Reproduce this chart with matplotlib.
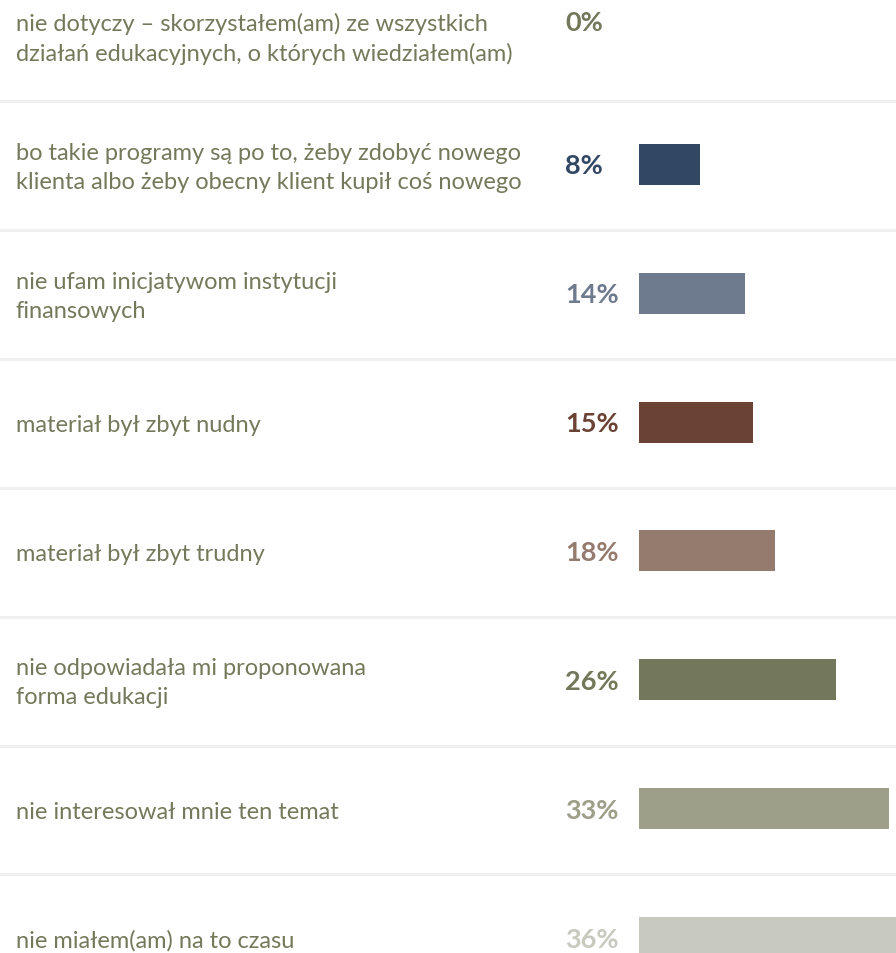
import matplotlib
matplotlib.use("Agg")
import matplotlib.pyplot as plt
import matplotlib.transforms as mtransforms

categories = [
    "nie dotyczy – skorzystałem(am) ze wszystkich\ndziałań edukacyjnych, o których wiedziałem(am)",
    "bo takie programy są po to, żeby zdobyć nowego\nklienta albo żeby obecny klient kupił coś nowego",
    "nie ufam inicjatywom instytucji\nfinansowych",
    "materiał był zbyt nudny",
    "materiał był zbyt trudny",
    "nie odpowiadała mi proponowana\nforma edukacji",
    "nie interesował mnie ten temat",
    "nie miałem(am) na to czasu",
]
values = [0, 8, 14, 15, 18, 26, 33, 36]
pct_labels = ["0%", "8%", "14%", "15%", "18%", "26%", "33%", "36%"]
bar_colors = ["#74785a", "#324764", "#6e7b8e", "#6a4335", "#957a6e",
              "#74785a", "#9e9f88", "#c8c9bf"]
text_color = "#75795b"

W, H = 896, 954
fig = plt.figure(figsize=(W / 100, H / 100), dpi=100)
ax = fig.add_axes([0, 0, 1, 1])
ax.set_axis_off()

px_per_pct = 7.58
bar_x0 = 639
ax.set_xlim(-bar_x0 / px_per_pct, (W - bar_x0) / px_per_pct)
row_h = 128.9
row0 = 36.3
ax.set_ylim((H - row0) / row_h, -row0 / row_h)

ypos = list(range(len(categories)))
ax.barh(ypos, values, height=41 / row_h, left=0, color=bar_colors, zorder=2)

# separators
for i in range(len(categories) - 1):
    ax.axhline(i + 0.51, color="#f0f0f0", lw=2.2, zorder=1)

trans = mtransforms.blended_transform_factory(ax.transAxes, ax.transData)
font = "Lato"
for i, (cat, v, lab, c) in enumerate(zip(categories, values, pct_labels, bar_colors)):
    ax.text(16 / W, i + 0.02, cat, transform=trans, ha="left", va="center",
            fontsize=17, color=text_color, family=font, linespacing=1.47)
    yl = i - 0.105 if v == 0 else i + 0.01
    ax.text(565 / W, yl, lab, transform=trans, ha="left", va="center",
            fontsize=19.5, fontweight="bold", color=c, family=font)

fig.savefig("out.png", dpi=100, facecolor="white")
